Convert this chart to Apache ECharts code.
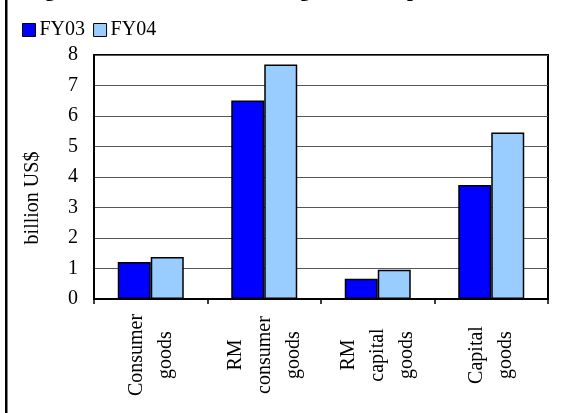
<!DOCTYPE html>
<html>
<head>
<meta charset="utf-8">
<script src="https://cdn.jsdelivr.net/npm/echarts@6/dist/echarts.min.js"></script>
<style>
html,body{margin:0;padding:0;background:#fff;}
#c{width:576px;height:413px;}
</style>
</head>
<body>
<div id="c"></div>
<script>
var categories = ['Consumer\ngoods', 'RM\nconsumer\ngoods', 'RM\ncapital\ngoods', 'Capital\ngoods'];
var fy03 = [1.21, 6.51, 0.66, 3.74];
var fy04 = [1.38, 7.69, 0.96, 5.46];
var seriesNames = ['FY03', 'FY04'];
var yTicks = [0, 1, 2, 3, 4, 5, 6, 7, 8];
var titleText = 'Figure 4: Trends in Some Categories of Imports';
var yAxisName = 'billion US$';

var FONT = 'Liberation Serif';
var chart = echarts.init(document.getElementById('c'), null, {renderer: 'canvas'});
chart.setOption({
  animation: false,
  backgroundColor: '#fff',
  title: {
    text: titleText,
    left: 26, top: -20, padding: 0,
    textStyle: {fontFamily: FONT, fontSize: 21, fontWeight: 'bold', color: '#000'}
  },
  legend: {
    data: seriesNames,
    left: 22, top: 20, padding: 0,
    itemWidth: 13, itemHeight: 13, itemGap: 8,
    icon: 'rect',
    itemStyle: {borderColor: '#000', borderWidth: 1},
    textStyle: {fontFamily: FONT, fontSize: 20, color: '#000', padding: [0, 0, 0, -1]}
  },
  graphic: [
    {type: 'rect', shape: {x: 5, y: 0, width: 2.5, height: 413}, style: {fill: '#000'}, silent: true},
    {type: 'text', x: 33, y: 198, rotation: Math.PI / 2,
     style: {text: yAxisName, font: '20px "' + FONT + '"', fill: '#000', align: 'center', verticalAlign: 'middle'}}
  ],
  grid: {left: 94, right: 28, top: 55, bottom: 114, show: true, borderColor: '#000', borderWidth: 2, backgroundColor: 'transparent'},
  xAxis: {
    type: 'category',
    data: categories,
    axisLine: {lineStyle: {color: '#000', width: 2}},
    axisTick: {show: true, length: 5, lineStyle: {color: '#000', width: 1.5}},
    axisLabel: {
      rotate: 90, align: 'center', verticalAlign: 'middle', margin: 56,
      fontFamily: FONT, fontSize: 20, lineHeight: 29, color: '#000', interval: 0
    }
  },
  yAxis: {
    type: 'value',
    min: yTicks[0], max: yTicks[yTicks.length - 1], interval: 1,
    axisLine: {show: true, lineStyle: {color: '#000', width: 2}},
    axisTick: {show: false},
    axisLabel: {fontFamily: FONT, fontSize: 20, color: '#000', margin: 16},
    splitLine: {lineStyle: {color: '#555', width: 1.2}}
  },
  series: [
    {name: seriesNames[0], type: 'bar', data: fy03, barWidth: 33, barGap: '0%',
     itemStyle: {color: '#0000FF', borderColor: '#000', borderWidth: 1.5}},
    {name: seriesNames[1], type: 'bar', data: fy04, barWidth: 33,
     itemStyle: {color: '#99CCFF', borderColor: '#000', borderWidth: 1.5}}
  ]
});
</script>
</body>
</html>
